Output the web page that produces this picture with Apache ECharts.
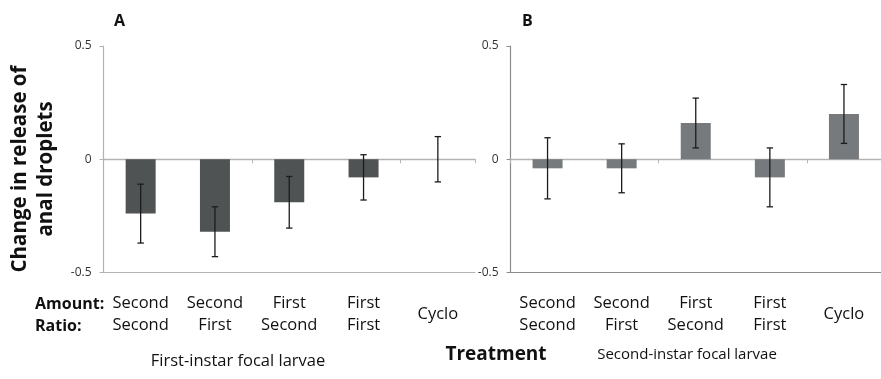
<!DOCTYPE html>
<html>
<head>
<meta charset="utf-8">
<script src="https://cdn.jsdelivr.net/npm/echarts@6/dist/echarts.min.js"></script>
<style>
  html, body { margin: 0; padding: 0; background: #fff; }
  #chart { width: 881px; height: 379px; }
</style>
</head>
<body>
<div id="chart"></div>
<script>
// Treatment categories: amount / ratio combinations plus the cyclo control
const amountLabels = ['Second', 'Second', 'First', 'First', 'Cyclo'];
const ratioLabels  = ['Second', 'First', 'Second', 'First', ''];
const categories = ['Second/Second', 'Second/First', 'First/Second', 'First/First', 'Cyclo'];

// Mean change in release of anal droplets and error (±)
const firstInstarMeans  = [-0.24, -0.32, -0.19, -0.08, 0.0];
const firstInstarErrors = [0.13, 0.11, 0.114, 0.10, 0.10];
const secondInstarMeans  = [-0.04, -0.04, 0.16, -0.08, 0.20];
const secondInstarErrors = [0.135, 0.108, 0.11, 0.13, 0.13];

const yTicks = { min: -0.5, max: 0.5, interval: 0.5 };

const FONT = '"Open Sans", "DejaVu Sans", sans-serif';

function labelFormatter(value, idx) {
  if (!ratioLabels[idx]) return '{c|' + amountLabels[idx] + '}';
  return '{a|' + amountLabels[idx] + '}\n{a|' + ratioLabels[idx] + '}';
}

function errorSeries(gridIdx, means, errs) {
  return {
    type: 'custom',
    xAxisIndex: gridIdx * 2,
    yAxisIndex: gridIdx,
    z: 5,
    data: means.map((m, i) => [i, m, errs[i]]),
    renderItem: function (params, api) {
      const x = api.value(0);
      const m = api.value(1);
      const e = api.value(2);
      const top = api.coord([x, m + e]);
      const bot = api.coord([x, m - e]);
      const cap = 3.2;
      const style = { stroke: '#1c1c1c', lineWidth: 1.3 };
      return {
        type: 'group',
        children: [
          { type: 'line', shape: { x1: top[0], y1: top[1], x2: bot[0], y2: bot[1] }, style: style },
          { type: 'line', shape: { x1: top[0] - cap, y1: top[1], x2: top[0] + cap, y2: top[1] }, style: style },
          { type: 'line', shape: { x1: bot[0] - cap, y1: bot[1], x2: bot[0] + cap, y2: bot[1] }, style: style }
        ]
      };
    }
  };
}

function xAxesFor(gridIdx, lineColor, bottomColor) {
  return [
    {
      gridIndex: gridIdx,
      type: 'category',
      data: categories,
      position: 'bottom',
      axisLine: { onZero: true, lineStyle: { color: lineColor, width: 1.3 } },
      axisTick: { show: true, length: 4, lineStyle: { color: lineColor } },
      axisLabel: { show: false },
      splitLine: { show: false }
    },
    {
      gridIndex: gridIdx,
      type: 'category',
      data: categories,
      position: 'bottom',
      axisLine: { onZero: false, show: true, lineStyle: { color: bottomColor, width: 1.2 } },
      axisTick: { show: false },
      axisLabel: {
        show: true,
        interval: 0,
        margin: 20,
        formatter: labelFormatter,
        rich: {
          a: { fontFamily: FONT, fontSize: 16.5, color: '#111', lineHeight: 22, align: 'center' },
          c: { fontFamily: FONT, fontSize: 16.5, color: '#111', lineHeight: 44, align: 'center' }
        }
      },
      splitLine: { show: false }
    }
  ];
}

function yAxisFor(gridIdx, lineColor) {
  return {
    gridIndex: gridIdx,
    type: 'value',
    min: yTicks.min,
    max: yTicks.max,
    interval: yTicks.interval,
    axisLine: { show: true, lineStyle: { color: lineColor, width: 1.2 } },
    axisTick: { show: true, length: 4, lineStyle: { color: lineColor } },
    axisLabel: {
      fontFamily: FONT, fontSize: 12, color: '#333', margin: 12,
      formatter: v => (v === 0 ? '0' : String(v))
    },
    splitLine: { show: false }
  };
}

const chart = echarts.init(document.getElementById('chart'), null, { renderer: 'canvas' });

chart.setOption({
  animation: false,
  backgroundColor: '#fff',
  title: [
    { text: 'A', left: 114, top: 13, padding: 0, textStyle: { fontFamily: FONT, fontSize: 16, fontWeight: 'bold', color: '#111' } },
    { text: 'B', left: 522, top: 13, padding: 0, textStyle: { fontFamily: FONT, fontSize: 16, fontWeight: 'bold', color: '#111' } }
  ],
  grid: [
    { left: 103.5, top: 46, width: 371.5, height: 226.5 },
    { left: 510.5, top: 46, width: 375, height: 226.5 }
  ],
  xAxis: [].concat(xAxesFor(0, '#b3b3b3', '#b3b3b3'), xAxesFor(1, '#b3b3b3', '#8c8c8c')),
  yAxis: [yAxisFor(0, '#b3b3b3'), yAxisFor(1, '#8c8c8c')],
  series: [
    {
      type: 'bar', xAxisIndex: 0, yAxisIndex: 0, barWidth: 30, z: 2,
      data: firstInstarMeans,
      itemStyle: { color: '#4f5353' }
    },
    errorSeries(0, firstInstarMeans, firstInstarErrors),
    {
      type: 'bar', xAxisIndex: 2, yAxisIndex: 1, barWidth: 30, z: 2,
      data: secondInstarMeans,
      itemStyle: { color: '#767a7c' }
    },
    errorSeries(1, secondInstarMeans, secondInstarErrors)
  ],
  graphic: [
    {
      type: 'text', x: 33, y: 169, rotation: Math.PI / 2,
      style: {
        text: 'Change in release of\nanal droplets',
        font: 'bold 20.5px ' + FONT, fill: '#111',
        align: 'center', verticalAlign: 'middle', lineHeight: 26
      }
    },
    { type: 'text', x: 35, y: 304, style: { text: 'Amount:', font: 'bold 16px ' + FONT, fill: '#111', verticalAlign: 'middle' } },
    { type: 'text', x: 35, y: 326, style: { text: 'Ratio:', font: 'bold 16px ' + FONT, fill: '#111', verticalAlign: 'middle' } },
    { type: 'text', x: 496, y: 355, style: { text: 'Treatment', font: 'bold 19px ' + FONT, fill: '#111', align: 'center', verticalAlign: 'middle' } },
    { type: 'text', x: 238, y: 361, style: { text: 'First-instar focal larvae', font: '16.5px ' + FONT, fill: '#111', align: 'center', verticalAlign: 'middle' } },
    { type: 'text', x: 687, y: 355, style: { text: 'Second-instar focal larvae', font: '15px ' + FONT, fill: '#111', align: 'center', verticalAlign: 'middle' } }
  ]
});
</script>
</body>
</html>
